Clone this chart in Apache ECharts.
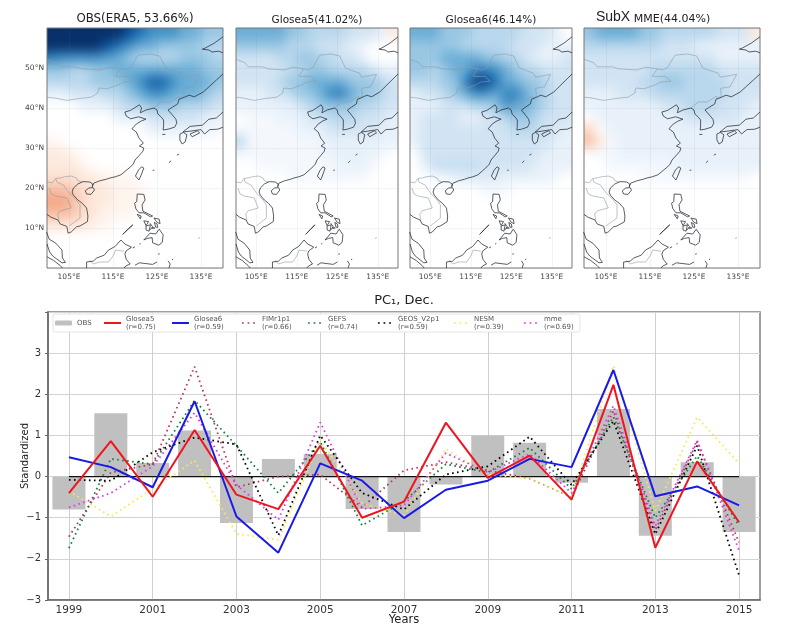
<!DOCTYPE html>
<html><head><meta charset="utf-8">
<style>
html,body{margin:0;padding:0;background:#fff}
#c{width:794px;height:639px}
canvas[data-zr-dom-id="zr_-1"]{filter:blur(6px);clip-path:path('M47 28H223V268H47Z')}
canvas[data-zr-dom-id="zr_-2"]{filter:blur(6px);clip-path:path('M236 28H398V268H236Z')}
canvas[data-zr-dom-id="zr_-3"]{filter:blur(6px);clip-path:path('M410 28H572V268H410Z')}
canvas[data-zr-dom-id="zr_-4"]{filter:blur(6px);clip-path:path('M584 28H760V268H584Z')}
</style>
<script src="https://cdn.jsdelivr.net/npm/echarts@6/dist/echarts.min.js"></script>
</head><body><div id="c"></div>
<script>
const years=['1999','2000','2001','2002','2003','2004','2005','2006','2007','2008','2009','2010','2011','2012','2013','2014','2015'];
const obs=[-0.8,1.54,0.33,1.12,-1.13,0.43,0.55,-0.79,-1.35,-0.19,1.0,0.82,-0.15,1.64,-1.44,0.35,-1.35];
const glosea5=[-0.4,0.86,-0.49,1.13,-0.44,-0.79,0.75,-1.0,-0.61,1.31,-0.03,0.51,-0.56,2.23,-1.73,0.37,-1.11];
const glosea6=[0.47,0.23,-0.26,1.83,-0.97,-1.85,0.32,-0.1,-1.01,-0.32,-0.1,0.43,0.23,2.59,-0.48,-0.24,-0.7];
const fimr=[-1.46,0.1,0.3,2.67,-0.26,0,0.05,-0.75,0.15,0.35,0.15,-0.05,-0.5,1.6,-1.3,0.85,-1.6];
const gefs=[-1.74,0.43,0.3,1.85,0.75,-0.4,0.85,-1.19,-0.6,0.3,0.1,0.7,-0.3,1.45,-1.0,0.5,-1.2];
const geos=[-0.08,-0.1,0.59,0.95,0.78,-1.43,1.0,-0.4,-0.8,0.05,0.25,0.97,-0.2,1.35,-1.4,0.75,-2.4];
const nesm=[-0.35,-0.97,-0.3,0.39,-1.39,-1.54,0.9,-0.65,-0.95,0.67,0.05,-0.05,-0.5,2.7,-0.83,1.44,0.32];
const mme=[-0.75,-0.4,0.25,1.55,-0.2,-1.05,1.32,-0.79,-0.7,0.57,0.1,0.55,-0.4,1.72,-1.2,0.88,-1.8];
const zeroLine=years.map(()=>0);
const rValues={Glosea5:'0.75',Glosea6:'0.59',FIMr1p1:'0.66',GEFS:'0.74',GEOS_V2p1:'0.59',NESM:'0.39',mme:'0.69'};
const yTicks=[-3,-2,-1,0,1,2,3];
const lonTicks=[105,115,125,135];
const latTicks=[10,20,30,40,50];

// anomaly fields, north to south: rows 58.5N, 55.5N ... every 3 deg; 16 columns 100-140E; rows not listed are 0
const fieldObs=[
[9.5,9.5,9.5,9.5,9.5,9.5,9,8,7,6,6,6,5,5,4,4],
[9.5,9.5,9.5,9,9,8,7,6,5,5,4,4,4,4,3,3],
[6.5,6,6,6,6,5.5,5,4,3,3,3,3,4,4,4,3],
[4,4,3,3,4,4,5,5,5,5,5,5,5,5,4,4],
[3,3,3,3,4,4,4,5,6,7.5,7.5,6,5,5,5,4],
[1,1,2,2,2,3,3,4,5,6,6,5,5,5,4,3],
[0,0,0,1,1,1,2,3,3,4,4,4,3,3,3,2],
[0,0,0,0,0,0,1,1,1,2,2,2,2,2,1,1],
[0,0,0,0,0,0,0,0,0,1,1,1,1,1,1,0.5],
[-0.5,0,0,0,0,0,0,0,0,0,0,0,0,0,0,0],
[-1,-1,-0.5,0,0,0,0,0,0,0,0,0,0,0,0,0],
[-1,-1,-1,-0.5,0,0,0,0,0,0,0,0,0,0,0,0],
[-1.5,-1.5,-1.5,-1,-1,-0.5,-0.5,-0.5,0,0,0,0,0,0,0,0],
[-3,-3,-2,-1.5,-1,-1,-0.5,-0.5,-0.5,0,0,0,0,0,0,0],
[-4,-4,-3,-1.5,-1,-1,-0.5,-0.5,-0.5,0,0,0,0,0,0,0],
[-3,-3,-2.5,-1.5,-1,-0.5,-0.5,-0.5,0,0,0,0,0,0,0,0],
[-1,-1,-1,-1,-0.5,-0.5,0,0,0,0,0,0,0,0,0,0]];
const fieldG5=[
[5,5,5,5,5,4,4,3,3,3,3,2,2,2,1,-1],
[4,4,4,4,4,3,3,3,2,2,2,1,1,0,0,0],
[2,2,2,2,3,3,4,4,3,3,2,2,1,0,0,0],
[2,2,2,2,2,3,3,4,4,3,3,3,3,2,1,1],
[2,2,2,2,3,4,4,5,5,5,5,4,4,4,3,2],
[1,1,1,2,2,3,4,4,5,6.5,6.5,5,4,4,3,2],
[1,1,1,1,1,1,2,3,4,4,4,4,3,3,2,2],
[0,0.5,0.5,0.5,1,1,1,2,2,3,3,3,2,2,2,1],
[0.5,0.5,0.5,0.5,0.5,0.5,1,1,1,2,2,2,2,2,1,1],
[3,0.5,0.5,0.5,0.5,0.5,0.5,0.5,1,1,1,1,1,1,1,1],
[0.5,0.5,0.5,0.5,0.5,0.5,0.5,0.5,0.5,1,1,1,1,1,0.5,0],
[0,0,0.5,0.5,0.5,0.5,0.5,0.5,0.5,0.5,1,1,1,0.5,0,0],
[0,0,0,0,0,0.5,0.5,0.5,0.5,0.5,0.5,0.5,0.5,0,0,0]];
const fieldG6=[
[5,5,5,4,4,4,3,3,3,3,3,2,2,2,1,0],
[4,4,4,4,4,3,3,3,3,3,2,2,2,1,1,1],
[4,4,4,5,5,5,5,4,4,3,3,2,1,1,1,2],
[4,4,3,4,5,5,6.5,6.5,6,5,4,3,3,2,2,2],
[3,3,3,4,4,6.5,8.5,8.5,7,5,5,4,4,3,2,2],
[1,2,2,3,4,5,6,6,5,6.5,6.5,5,4,3,2,2],
[1,1,1,2,2,2,3,3,4,6,5,5,4,3,2,2],
[1,2,2,2,2,1,1,2,2,3,4,4,3,2,2,2],
[1,2,2,2,2,2,2,2,2,2,3,3,3,2,2,1],
[1,2,2,2,2,2,2,2,2,2,2,2,2,2,1,1],
[0,2,2,2,2,2,2,2,2,2,2,2,2,1,1,1],
[0,1,2.5,2.5,2.5,2.5,2.5,2,2,2,2,2,1,1,1,1],
[0,0,0.5,0.5,1,1.5,1.5,1.5,1.5,1,1,1,1,1,0.5,0],
[0,0,0,0,0,0,0,0.5,0.5,0.5,0,0,0,0,0,0]];
const fieldMme=[
[4,5,5,5,5,4,4,3,3,3,3,3,2,2,2,-1],
[3,3,3,3,3,3,3,2,2,2,1,1,1,1,1,1],
[2,2,2,2,2,2,2,2,2,2,2,2,1,1,1,1],
[2,2,2,2,2,2,3,3,3,3,3,3,2,2,2,2],
[2,2,2,2,2,3,3,4,4,3,3,3,3,2,2,2],
[1,1,1,2,2,2,3,3,3,3,3,3,3,2,2,2],
[1,1,1,1,1,1,1,2,2,3,3,3,2,2,2,1],
[0,1,1,1,1,1,1,1,1,2,2,2,2,2,1,1],
[-2,0,1,1,1,1,1,1,1,1,1,1,1,1,1,1],
[-3,-1,0.5,1,1,1,1,1,1,1,1,1,1,1,1,1],
[0,0.5,0.5,1,1,1,1,1,1,1,1,1,1,1,1,1],
[0,0,0.5,0.5,0.5,0.5,0.5,0.5,1,1,1,1,1,1,1,1],
[0,0,0,0,0,0.5,0.5,0.5,0.5,0.5,0.5,0.5,0.5,0.5,0.5,0]];
const fields=[fieldObs,fieldG5,fieldG6,fieldMme];
const fieldColors=['#f4a582','#f8bfa4','#fbd5c2','#fdeade','#ffffff','#e8f1fa','#d2e4f3','#b9d7ed','#99c7e3','#6baed6','#4292c6','#2171b5','#08519c','#08306b'];

// geography, [lon,lat]
const coastLines=[
[[100,13.4],[100.9,12.7],[102.5,12],[103,11],[104.5,10.4],[104.8,8.7],[105.5,9],[106.7,10.3],[107.5,10.5],[109.2,11.6],[109.3,13],[109,15],[108,16.2],[107,17],[106,18.2],[105.7,19],[106,20],[107,21],[108.2,21.6],[109.7,21.5],[110.4,21],[110.3,20.3],[110.6,21.2],[112,21.8],[113.5,22.2],[114.3,22.5],[115.5,22.8],[116.8,23.3],[118,24.4],[119,25.3],[119.6,26],[120,27],[121,28.2],[121.8,29.2],[122,30],[121,30.5],[121.9,31.2],[120.9,32.5],[120.3,34],[119.3,34.8],[120.3,36],[121.5,36.8],[122.5,37.2],[120.8,37.8],[119,37.3],[118,38],[117.7,39],[119,39.4],[121,40.8],[121.5,40],[121.2,38.8],[122.5,39.5],[124.3,40],[125,39.5],[125.2,38.5],[126,37.7],[126.5,37],[126.5,35.5],[126.4,34.5],[127.5,34.7],[129,35.2],[129.5,36.2],[129.3,37.2],[128.3,38.5],[127.5,39.5],[128.5,40.2],[129.7,41],[130,42.2],[130.8,42.5],[132.3,43.2],[133.5,42.8],[135.5,44],[137,45.5],[138.5,47],[140,48.5]],
[[140,57.8],[138,56.2],[136,55],[135.3,54.7],[136.8,54.5],[137.5,54],[139,54.2],[140,53.8]],
[[108.7,19.3],[109,18.5],[110,18.4],[110.8,19.5],[110.5,20.1],[109.5,20],[108.7,19.3]],
[[120.1,23],[120.9,22],[121.5,23.5],[122,25],[121.5,25.3],[120.8,24.5],[120.1,23]],
[[130.2,33.5],[131,33.9],[131.8,33.3],[131.4,31.5],[130.7,31],[130.2,32],[130.2,33.5]],
[[132.5,33.5],[134.2,34.3],[134.7,33.8],[133,32.8],[132.5,33.5]],
[[130.9,34],[132.5,35.4],[135.3,35.7],[136.8,37.2],[138.5,37.5],[140,39]],
[[130.9,34],[132.5,34.2],[135,34.6],[135.8,33.5],[137,34.6],[138.8,34.7],[140,35.2]],
[[126.2,33.4],[126.9,33.4]],
[[127.7,26.3],[128.2,26.8]],[[124,24.4],[124.4,24.5]],[[129.5,28.2],[130,28.5]],
[[120.5,18.5],[122,18.4],[122.3,17],[121.6,15.8],[121.8,14.2],[124,13],[123.5,12.8],[122,13.8],[120.9,13.8],[120.2,14.8],[119.9,16.2],[120.4,16.6],[120.5,18.5]],
[[120.5,13.4],[121.4,13],[121.2,12.3],[120.5,13.4]],
[[117.2,8.4],[119.5,10.8],[119.5,11.3],[118.5,9.8],[117.2,8.4]],
[[122,11.8],[123.1,11.6],[122.5,10.6],[122,11.8]],
[[122.5,10.5],[123.5,10.8],[123.2,9.2],[122.5,9.5],[122.5,10.5]],
[[123.4,11.2],[124,10.3],[123.4,9.5]],
[[124.4,11.4],[125,11],[125.2,10.2],[124.7,10.2],[124.4,11.4]],
[[124.3,12.5],[125.5,12.2],[125.7,11.1],[125,11.4],[124.3,12.5]],
[[123.8,10],[124.5,10],[124.4,9.6],[123.8,10]],
[[122,7],[123.4,8.7],[124.7,8.5],[125.5,9.7],[126.4,8.3],[126.2,6.4],[125.4,5.7],[125,6],[124,6.3],[123.9,7.6],[122.8,7.4],[122,7]],
[[109,0],[109,1.5],[110.5,1.7],[111.3,2.5],[113,3.2],[114,4.5],[115.5,5.4],[116.8,7],[117.7,6],[119.2,5.2],[118,4.3],[117.7,3.5],[118,2.2],[118.9,1],[117.9,0.5],[117.5,0]],
[[99.9,9],[100.5,7.2],[102,6.2],[103.4,4.5],[103.5,2.5],[104.2,1.4],[103.4,1.3],[101.3,3],[100.6,4],[100,6]],
[[100,2.8],[101.5,1.9],[103,0.6],[103.5,0]],
[[125,1.5],[124,0.9],[121,1.3],[120,0.7]],
[[127.5,1.8],[128,1],[127.7,0]],
[[125.4,3.3],[125.5,3.7]],[[134.5,7.4],[134.6,7.6]],[[131.1,3],[131.2,3.1]],[[119.5,5],[120,5.3]],[[121,6],[121.3,6.1]],[[128.5,2],[128.6,2.3]]
];
const borderLines=[
[[100,52.2],[102.2,51.3],[103,50.3],[106.5,50.3],[107.9,49.8],[112,49.5],[114,50.2],[116.7,49.8],[117.8,49.5],[119,50.1],[120,52],[120.7,53.2],[123.5,53.5],[125.6,53],[127,50],[128,49.6],[130.5,48.7],[131,47.7],[134.7,48.4],[133.2,45.3],[131,44.9],[131.2,43.2],[130.7,42.5]],
[[100,42.7],[101.8,42.5],[104.5,41.9],[107.5,42.4],[110,42.7],[111.5,43.7],[111.8,45],[113.6,44.8],[116,45.7],[117.5,46.5],[119.8,46.7],[118.5,47.9],[116,47.9],[115.5,48],[116.7,49.8]],
[[124.3,40],[126,41.5],[128,41.5],[128.2,42],[130,42.9],[130.7,42.5]],
[[100,21.5],[101.2,21.3],[102,22.4],[103,22.5],[104,22.8],[105.5,23],[106.7,22.5],[107,21.8],[108,21.5]],
[[102,22.4],[102.2,21.5],[103.8,20.7],[104.5,19.5],[105.2,18.6],[106.5,17.2],[107.5,15.8],[107.5,14.5],[107.5,12.5],[106,11.3],[105,10.5]],
[[100.5,20],[101,18.5],[102,18],[104.5,17.5],[105.5,15],[103,14.3],[102.4,13.5],[102.7,12]],
[[109.6,2],[110.5,1],[112,1.5],[114,1.5],[115,3],[115.6,4.5],[117.5,4.2]]
];
function flatten(ls){const o=[];ls.forEach(l=>{l.forEach(p=>o.push(p));o.push(['-','-']);});return o;}

const panels=[{l:47,r:223},{l:236,r:398},{l:410,r:572},{l:584,r:760}];
const panelTop=28,panelBottom=268;
const nCols=16,nRows=20,pad=2;
const FF='"DejaVu Sans"';
const faint='rgba(110,125,140,0.13)';

const grid=[],xAxis=[],yAxis=[],series=[];
panels.forEach((p,i)=>{grid.push({left:p.l,width:p.r-p.l,top:panelTop,height:panelBottom-panelTop,show:true,borderColor:'#777',borderWidth:1,backgroundColor:'transparent',outerBoundsMode:'none'});});
panels.forEach((p,i)=>{
  const cw=(p.r-p.l)/nCols,ch=(panelBottom-panelTop)/nRows;
  grid.push({left:p.l-pad*cw,width:(p.r-p.l)+2*pad*cw,top:panelTop-pad*ch,height:(panelBottom-panelTop)+2*pad*ch,show:false,outerBoundsMode:'none'});
});
grid.push({left:48,width:712,top:312,height:288,show:true,borderColor:'#808080',borderWidth:1.5,outerBoundsMode:'none'});

panels.forEach((p,i)=>{
  xAxis.push({type:'value',gridIndex:i,min:100,max:140,axisLine:{show:false},
    axisTick:{show:false,customValues:lonTicks},
    splitLine:{show:true,customValues:lonTicks,lineStyle:{color:faint,width:0.7}},
    axisLabel:{customValues:lonTicks,formatter:v=>v+'°E',fontFamily:FF,fontSize:7.5,color:'#444',margin:5}});
  yAxis.push({type:'value',gridIndex:i,min:0,max:60,interval:10,axisLine:{show:false},axisTick:{show:false},
    splitLine:{show:true,lineStyle:{color:faint,width:0.7}},
    axisLabel:{show:i===0,customValues:latTicks,formatter:v=>v+'°N',fontFamily:FF,fontSize:7.5,color:'#444',margin:3}});
});
panels.forEach((p,i)=>{
  const cats=[];for(let c=0;c<nCols+2*pad;c++)cats.push('c'+c);
  const rows=[];for(let r=0;r<nRows+2*pad;r++)rows.push('r'+r);
  xAxis.push({type:'category',gridIndex:4+i,data:cats,show:false});
  yAxis.push({type:'category',gridIndex:4+i,data:rows,inverse:true,show:false});
});
xAxis.push({type:'category',gridIndex:8,data:years,
  axisLine:{onZero:false,lineStyle:{color:'#666',width:1.5}},
  axisTick:{alignWithLabel:true,interval:1,length:3,lineStyle:{color:'#666'}},
  axisLabel:{interval:1,fontFamily:FF,fontSize:10.5,color:'#333',margin:5},
  splitLine:{show:true,interval:1,alignWithLabel:true,lineStyle:{color:'#cfcfcf',width:1}},
  name:'Years',nameLocation:'middle',nameGap:14,nameMoveOverlap:false,nameTextStyle:{fontFamily:FF,fontSize:11.5,color:'#222'}});
yAxis.push({type:'value',gridIndex:8,min:-3,max:4,interval:1,
  axisLine:{show:true,onZero:false,lineStyle:{color:'#666',width:1.5}},
  axisTick:{show:true,length:3,lineStyle:{color:'#666'}},
  axisLabel:{fontFamily:FF,fontSize:10,color:'#333',margin:7,formatter:v=>yTicks.includes(v)?(v<0?'−'+Math.abs(v):String(v)):''},
  splitLine:{show:true,lineStyle:{color:'#d4d4d4',width:1}},
  name:'Standardized',nameLocation:'middle',nameGap:18,nameMoveOverlap:false,nameTextStyle:{fontFamily:FF,fontSize:10,color:'#222'}});

fields.forEach((f,i)=>{
  const data=[];
  for(let r=-pad;r<nRows+pad;r++)for(let c=-pad;c<nCols+pad;c++){
    const rr=Math.max(0,Math.min(nRows-1,r)),cc=Math.max(0,Math.min(nCols-1,c));
    data.push([c+pad,r+pad,(f[rr]||[])[cc]||0]);
  }
  series.push({type:'heatmap',name:'field'+i,xAxisIndex:4+i,yAxisIndex:4+i,data,zlevel:-1-i,silent:true,progressive:0,emphasis:{disabled:true}});
});
panels.forEach((p,i)=>{
  series.push({type:'line',name:'borders'+i,xAxisIndex:i,yAxisIndex:i,data:flatten(borderLines),showSymbol:false,symbol:'none',silent:true,lineStyle:{color:'#8d9ba6',width:0.6},z:3});
  series.push({type:'line',name:'coast'+i,xAxisIndex:i,yAxisIndex:i,data:flatten(coastLines),showSymbol:false,symbol:'none',silent:true,lineStyle:{color:'#30353c',width:0.8},z:4});
});
series.push({type:'bar',name:'OBS',xAxisIndex:8,yAxisIndex:8,data:obs,barWidth:33,itemStyle:{color:'#c0c0c0'},silent:true,z:1});
series.push({type:'line',name:'zero',xAxisIndex:8,yAxisIndex:8,data:zeroLine,symbol:'none',silent:true,lineStyle:{color:'#111',width:1.2},z:2});
const dotted=[['FIMr1p1',fimr,'#b23a62'],['GEFS',gefs,'#15803d'],['GEOS_V2p1',geos,'#000000'],['NESM',nesm,'#f7e75a'],['mme',mme,'#e23ae2']];
const dotZ={FIMr1p1:3,GEFS:3,GEOS_V2p1:4,NESM:3,mme:3};
dotted.forEach(d=>series.push({type:'line',name:d[0],xAxisIndex:8,yAxisIndex:8,data:d[1],symbol:'none',silent:true,z:dotZ[d[0]],
  lineStyle:{color:d[2],width:1.8,type:[1.6,3.4]},itemStyle:{color:d[2]}}));
series.push({type:'line',name:'Glosea6',xAxisIndex:8,yAxisIndex:8,data:glosea6,symbol:'none',silent:true,z:5,lineStyle:{color:'#1a1ae6',width:2},itemStyle:{color:'#1a1ae6'}});
series.push({type:'line',name:'Glosea5',xAxisIndex:8,yAxisIndex:8,data:glosea5,symbol:'none',silent:true,z:6,lineStyle:{color:'#f0141e',width:2},itemStyle:{color:'#f0141e'}});

const iconSolid='path://M0 0h.01v.01h-.01z M17 5h.01v.01h-.01z M0 1.5H17V3.5H0z';
const iconDots='path://M0 0h.01v.01h-.01z M17 5h.01v.01h-.01z M2 1.7h1.8v1.6H2z M7.6 1.7h1.8v1.6H7.6z M13.2 1.7h1.8v1.6H13.2z';
const legendNames=[['OBS',27,null],['Glosea5',46,iconSolid],['Glosea6',46,iconSolid],['FIMr1p1',44,iconDots],['GEFS',48,iconDots],['GEOS_V2p1',54,iconDots],['NESM',48,iconDots],['mme',34,iconDots]];
const title=[
 {text:'OBS(ERA5, 53.66%)',left:135,top:19,fs:11.8},
 {text:'Glosea5(41.02%)',left:317,top:20,fs:10.5},
 {text:'Glosea6(46.14%)',left:491,top:20,fs:10.5},
 {text:'MME(44.04%)',left:672,top:19,fs:11},
 {text:'SubX',left:613,top:17,fs:14,ff:'"Liberation Sans"'},
 {text:'PC₁, Dec.',left:404,top:301,fs:13}
].map(t=>({text:t.text,left:t.left,top:t.top,textAlign:'center',textVerticalAlign:'middle',padding:0,
  textStyle:{fontFamily:t.ff||FF,fontSize:t.fs,fontWeight:'normal',color:'#222'}}));

const chart=echarts.init(document.getElementById('c'),null,{renderer:'canvas'});
chart.setOption({
  animation:false,title,grid,xAxis,yAxis,series,
  visualMap:{show:false,type:'continuous',min:-4,max:9,seriesIndex:[0,1,2,3],dimension:2,inRange:{color:fieldColors}},
  legend:{left:53,top:314,orient:'horizontal',padding:[1,2,1,2],itemGap:0,itemWidth:17,itemHeight:5,
    backgroundColor:'#fff',borderColor:'#e4e4e4',borderWidth:1,borderRadius:2,selectedMode:false,
    data:legendNames.map(n=>{const o={name:n[0],textStyle:{width:n[1]}};if(n[2]){o.icon=n[2];o.lineStyle={width:0};}return o;}),
    formatter:n=>rValues[n]?n+'\n(r='+rValues[n]+')':n,
    textStyle:{fontFamily:FF,fontSize:7,lineHeight:8,color:'#555'}}
});
</script></body></html>
